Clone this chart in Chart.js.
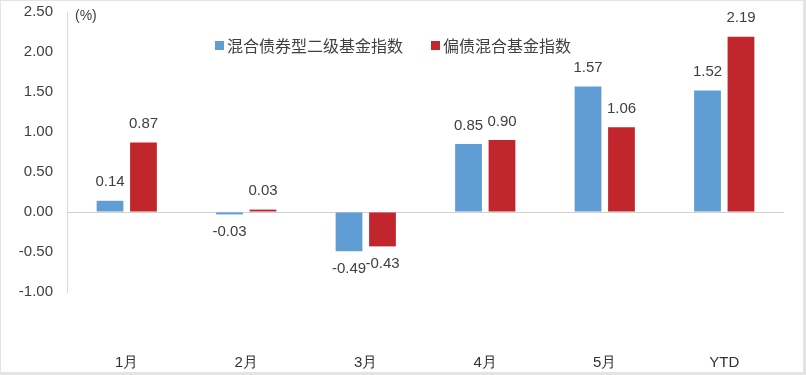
<!DOCTYPE html>
<html>
<head>
<meta charset="utf-8">
<script src="https://cdn.jsdelivr.net/npm/chart.js@4/dist/chart.umd.min.js"></script>
<style>
  html, body { margin: 0; padding: 0; background: #fff; }
  #wrap { position: relative; width: 806px; height: 375px; }
  #frame { position: absolute; left: 0; top: 0; width: 806px; height: 375px; box-sizing: border-box;
           border: 1px solid #e4e4e4; border-right-width: 3px; border-bottom-width: 3px; pointer-events: none; }
</style>
</head>
<body>
<div id="wrap"><canvas id="chart"></canvas><div id="frame"></div></div>
<script>
// --- datos ---
const categories = ['1月', '2月', '3月', '4月', '5月', 'YTD'];
const secondaryBondIndex = [0.14, -0.03, -0.49, 0.85, 1.57, 1.52];
const hybridBondIndex = [0.87, 0.03, -0.43, 0.90, 1.06, 2.19];
const seriesNames = ['混合债券型二级基金指数', '偏债混合基金指数'];
const yTicks = { min: -1, max: 2.5, step: 0.5 };

const BLUE = '#5f9dd4';
const RED = '#c1262d';
const TEXT = '#404040';
const NUM_FONT = "'Liberation Sans', Arial, sans-serif";

// etiquetas de valor encima / debajo de cada barra
const valueLabels = {
    id: 'valueLabels',
    afterDatasetsDraw(chart) {
        const ctx = chart.ctx;
        ctx.save();
        ctx.font = '15px ' + NUM_FONT;
        ctx.fillStyle = TEXT;
        ctx.textAlign = 'center';
        chart.data.datasets.forEach((ds, i) => {
            chart.getDatasetMeta(i).data.forEach((bar, j) => {
                const v = ds.data[j];
                if (v >= 0) {
                    ctx.textBaseline = 'bottom';
                    ctx.fillText(v.toFixed(2), bar.x, bar.y - 11);
                } else {
                    ctx.textBaseline = 'top';
                    ctx.fillText(v.toFixed(2), bar.x, bar.y + 10);
                }
            });
        });
        ctx.restore();
    }
};

// leyenda y unidad dentro del área del gráfico
const innerLegend = {
    id: 'innerLegend',
    afterDraw(chart) {
        const ctx = chart.ctx;
        const area = chart.chartArea;
        ctx.save();
        ctx.fillStyle = TEXT;
        ctx.font = '14px ' + NUM_FONT;
        ctx.textBaseline = 'middle';
        ctx.textAlign = 'left';
        ctx.fillText('(%)', area.left + 8, area.top + 4);

        ctx.font = "16px 'Noto Sans CJK SC', sans-serif";
        let x = 215;
        const y = 46;
        chart.data.datasets.forEach((ds) => {
            ctx.fillStyle = ds.backgroundColor;
            ctx.fillRect(x, y - 5, 9, 9);
            ctx.fillStyle = TEXT;
            ctx.fillText(ds.label, x + 12, y);
            x += 12 + ctx.measureText(ds.label).width + 28;
        });
        ctx.restore();
    }
};

const ctx = document.getElementById('chart').getContext('2d');
new Chart(ctx, {
    type: 'bar',
    data: {
        labels: categories,
        datasets: [{
            label: seriesNames[0],
            data: secondaryBondIndex,
            backgroundColor: BLUE,
            categoryPercentage: 0.56,
            barPercentage: 0.8
        }, {
            label: seriesNames[1],
            data: hybridBondIndex,
            backgroundColor: RED,
            categoryPercentage: 0.56,
            barPercentage: 0.8
        }]
    },
    options: {
        responsive: true,
        maintainAspectRatio: false,
        animation: false,
        layout: { padding: { top: 12, right: 22, bottom: 5, left: 5 } },
        plugins: {
            legend: { display: false },
            tooltip: { enabled: false }
        },
        scales: {
            x: {
                grid: { display: false, drawTicks: false },
                border: { display: false },
                ticks: { color: '#333', font: { size: 15, family: "'Liberation Sans Narrow', 'Liberation Sans', sans-serif" }, padding: 62 },
                afterFit: (s) => { s.height = 78; }
            },
            y: {
                min: yTicks.min,
                max: yTicks.max,
                ticks: {
                    stepSize: yTicks.step,
                    color: TEXT,
                    font: { size: 15, family: NUM_FONT },
                    padding: 14,
                    callback: (v) => Number(v).toFixed(2)
                },
                grid: {
                    drawTicks: false,
                    color: (c) => (c.tick && c.tick.value === 0 ? '#d0d0d0' : 'transparent')
                },
                border: { display: true, color: '#d9d9d9' },
                afterFit: (s) => { s.width = 62; s.paddingTop = 0; s.paddingBottom = 0; }
            }
        }
    },
    plugins: [valueLabels, innerLegend]
});
</script>
</body>
</html>
